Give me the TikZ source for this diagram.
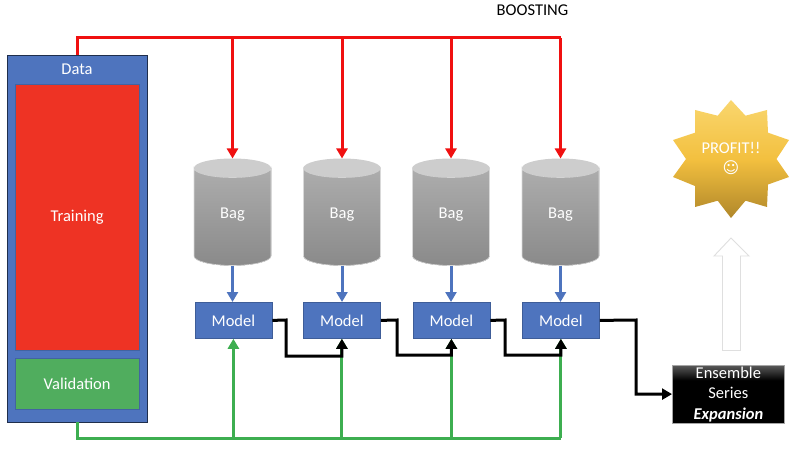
\documentclass[tikz,border=0pt]{standalone}
\usepackage{fontspec}
\setmainfont{Carlito}
\newfontfamily\symfont{DejaVu Sans}
\usetikzlibrary{arrows.meta}
\definecolor{dblue}{HTML}{4E74BE}
\definecolor{dred}{HTML}{EE3324}
\definecolor{dgreen}{HTML}{50AD5E}
\definecolor{lred}{HTML}{F01010}
\definecolor{lgreen}{HTML}{3DAE50}
\definecolor{bagtop}{HTML}{ADADAD}
\definecolor{bagbot}{HTML}{8A8A8A}
\definecolor{baglid}{HTML}{CDCDCD}
\definecolor{starA}{HTML}{F9D66E}
\definecolor{starB}{HTML}{F3C03F}
\definecolor{starC}{HTML}{B0872A}
\pgfdeclareverticalshading{ensshade}{100bp}{color(0bp)=(black);color(62bp)=(black);color(75bp)=(black!65);color(100bp)=(black!65)}
\tikzset{
  x=1pt,y=-1pt,
  lbl/.style={text=white,font=\fontsize{16.5}{19}\selectfont,inner sep=0pt,align=center},
  panel/.style={lbl,draw=#1!80!black,line width=0.8pt,fill=#1,anchor=north west},
  modelbox/.style={panel=dblue,minimum width=77pt,minimum height=36pt},
  redline/.style={draw=lred,line width=3pt},
  greenline/.style={draw=lgreen,line width=3pt},
  blueline/.style={draw=dblue,line width=3pt},
  blackline/.style={draw=black,line width=3pt},
  tip/.style={-{Triangle[length=10pt,width=11pt]}},
}
\newcommand{\bagat}[2]{%
  \fill[top color=bagtop,bottom color=bagbot,draw=gray!30,line width=0.6pt]
    (#1-38.5,168) -- (#1-38.5,256) arc[start angle=180,end angle=360,x radius=38.5,y radius=-9.5]
    -- (#1+38.5,168) arc[start angle=0,end angle=180,x radius=38.5,y radius=9.5] -- cycle;
  \fill[baglid] (#1,168) ellipse[x radius=38.5,y radius=9.5];
  \node[lbl] (#2) at (#1,214.5) {Bag};
  \coordinate (#2top) at (#1,158.5);
  \coordinate (#2bot) at (#1,265.5);
}
\begin{document}
\begin{tikzpicture}
\useasboundingbox (0,0) rectangle (800,457);
\node[font=\fontsize{16.5}{19}\selectfont,inner sep=0pt] (boost) at (532.5,10.5) {BOOSTING};
% data block
\node[panel=dblue,draw=black!60!dblue,minimum width=140pt,minimum height=367pt] (data) at (7,55) {};
\node[lbl] (datalabel) at (77,69.5) {Data};
\node[panel=dred,draw=dblue!85!black,minimum width=124.5pt,minimum height=266pt] (train) at (14.5,84) {\raisebox{-1pt}{Training}};
\node[panel=dgreen,draw=dblue!85!black,minimum width=124.5pt,minimum height=51pt] (valid) at (14.5,358) {Validation};
% bags
\bagat{232.5}{bagA}
\bagat{342}{bagB}
\bagat{451}{bagC}
\bagat{560.5}{bagD}
% models
\node[modelbox] (modelA) at (194.5,302) {Model};
\node[modelbox] (modelB) at (303,302) {Model};
\node[modelbox] (modelC) at (412.5,302) {Model};
\node[modelbox] (modelD) at (522,302) {Model};
% ensemble
\node[anchor=north west,draw=gray!70,line width=0.7pt,shading=ensshade,
  minimum width=112pt,minimum height=57.5pt,lbl,font=\fontsize{16.5}{20.5}\selectfont] (ens) at (672,365)
  {\raisebox{-1pt}{Ensemble}\\\raisebox{-1pt}{Series}\\\raisebox{-1pt}{\textbf{\textit{Expansion}}}};
% star
\path[top color=starA,bottom color=starC,middle color=starB]
  (731,100) -- (745.5,115.7) -- (767,110) -- (768,132.7) -- (789,140) -- (776.5,159) -- (789,177) -- (768,184.5)
  -- (767,207) -- (745.5,200.7) -- (731,218) -- (717.7,200.7) -- (695,207) -- (695,186) -- (673,177) -- (686,159)
  -- (673,140) -- (695,132.7) -- (695,110) -- (717.7,115.7) -- cycle;
\node[lbl] (profit) at (731,159) {PROFIT!!\\[1pt]{\symfont\fontsize{16}{18}\selectfont ☺}};
% hollow arrow
\draw[draw=gray!25,line width=0.9pt,fill=white] (731,238) coordinate (hollowtip) -- (749,256) -- (740.5,256) -- (740.5,350.5)
  -- (722.5,350.5) -- (722.5,256) -- (714,256) -- cycle;
% red
\coordinate (redcorner) at (77,38);
\coordinate (redend) at (bagD |- redcorner);
\draw[redline] (77,55) -- (redcorner) -- (redend);
\foreach \b in {bagA,bagB,bagC,bagD}{
  \draw[redline,tip] (\b top |- redcorner) -- (\b top);
  \draw[blueline,tip] (\b bot) -- (\b bot |- 0,302);
}
% green
\coordinate (greencorner) at (77,438);
\coordinate (greenend) at (modelD.south |- greencorner);
\draw[greenline] (77,422) -- (greencorner) -- (greenend);
\foreach \m in {modelA,modelB,modelC,modelD}{
  \draw[greenline,tip] (\m.south |- greencorner) -- (\m.south);
}
% black
\draw[blackline,tip] (modelA.east) -- (286,320) -- (286,356) -| (modelB.south);
\draw[blackline,tip] (modelB.east) -- (397,320) -- (397,355) -| (modelC.south);
\draw[blackline,tip] (modelC.east) -- (505,320) -- (505,355) -| (modelD.south);
\draw[blackline,tip] (modelD.east) -- (636,320) |- (ens.west);
\end{tikzpicture}
\end{document}
